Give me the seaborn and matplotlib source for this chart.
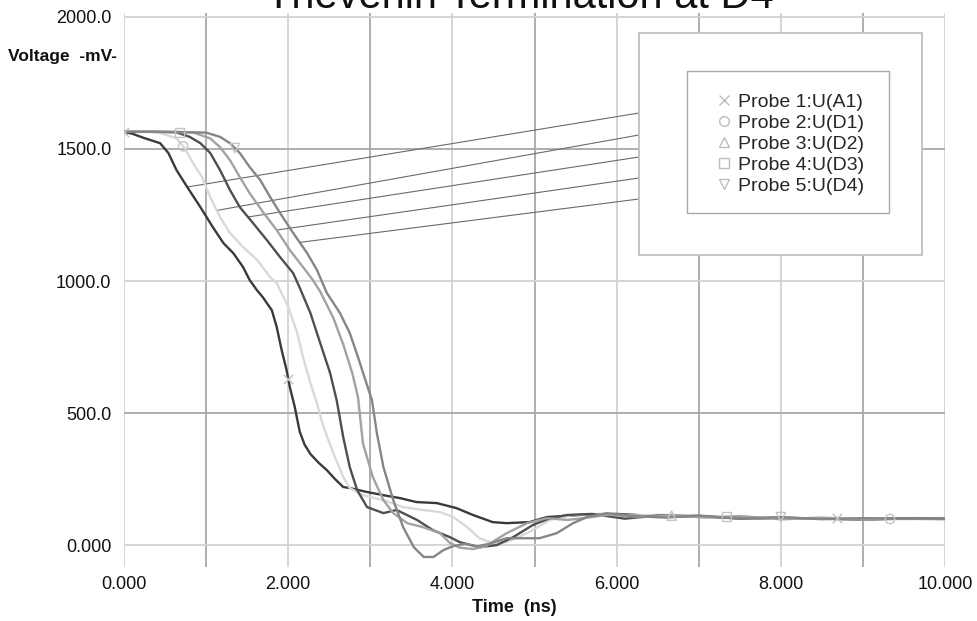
import numpy as np
import pandas as pd
import seaborn as sns
import matplotlib.pyplot as plt
from matplotlib.patches import Rectangle
from matplotlib.lines import Line2D

# ---------------- data ----------------
title = "Thevenin Termination at D4"
probes = ["Probe 1:U(A1)", "Probe 2:U(D1)", "Probe 3:U(D2)", "Probe 4:U(D3)", "Probe 5:U(D4)"]

t1 = [0, 0.1, 0.24, 0.44, 0.54, 0.64, 0.77, 0.93, 1.08, 1.21, 1.33, 1.45, 1.53, 1.62, 1.69, 1.75, 1.80,
      1.86, 1.92, 1.98, 2.02, 2.08, 2.14, 2.20, 2.27, 2.37, 2.47, 2.57, 2.67, 2.75, 2.96, 3.16, 3.36,
      3.56, 3.81, 4.05, 4.25, 4.49, 4.66, 4.94, 5.15, 5.55, 6.0, 6.5, 7.0, 7.5, 8.0, 8.5, 9.0, 9.5, 10.0]
v1 = [1565, 1558, 1542, 1522, 1485, 1420, 1356, 1280, 1205, 1144, 1106, 1053, 1004, 965, 939, 912, 890,
      826, 739, 663, 598, 523, 430, 380, 345, 312, 284, 250, 220, 216, 201, 189, 178,
      163, 159, 140, 114, 87, 83, 87, 106, 114, 118, 110, 108, 104, 100, 103, 98, 100, 102]

t2 = [0, 0.3, 0.44, 0.64, 0.74, 0.84, 0.95, 1.05, 1.17, 1.29, 1.45, 1.62, 1.78, 1.86, 2.0, 2.11, 2.18,
      2.27, 2.35, 2.43, 2.55, 2.67, 2.75, 2.91, 3.16, 3.40, 3.64, 3.85, 4.01, 4.18, 4.33, 4.49, 4.66,
      4.91, 5.19, 5.47, 5.8, 6.2, 6.6, 7.0, 7.5, 8.0, 8.5, 9.0, 9.5, 10.0]
v2 = [1565, 1565, 1561, 1540, 1503, 1447, 1394, 1318, 1242, 1182, 1129, 1080, 1015, 992, 902, 803, 712,
      614, 538, 447, 348, 258, 216, 189, 170, 144, 133, 125, 106, 68, 26, 8, 11,
      45, 95, 114, 118, 112, 115, 106, 108, 98, 104, 100, 98, 100]

t3 = [0, 0.4, 0.64, 0.80, 0.93, 1.05, 1.17, 1.29, 1.41, 1.57, 1.74, 1.90, 2.06, 2.14, 2.27, 2.39, 2.51,
      2.59, 2.63, 2.67, 2.75, 2.84, 2.96, 3.16, 3.32, 3.57, 3.76, 3.97, 4.09, 4.33, 4.54, 4.74, 4.98,
      5.19, 5.40, 5.7, 6.1, 6.5, 7.0, 7.5, 8.0, 8.5, 9.0, 9.5, 10.0]
v3 = [1565, 1565, 1563, 1546, 1522, 1485, 1420, 1345, 1280, 1220, 1155, 1091, 1030, 975, 879, 765, 652,
      549, 480, 409, 295, 208, 144, 121, 133, 95, 57, 30, 11, -8, 0, 30, 76,
      102, 114, 118, 100, 112, 110, 100, 104, 100, 96, 102, 100]

t4 = [0, 0.5, 0.85, 1.05, 1.17, 1.29, 1.41, 1.53, 1.70, 1.86, 2.02, 2.18, 2.30, 2.39, 2.55, 2.67, 2.78,
      2.85, 2.91, 3.03, 3.16, 3.28, 3.45, 3.64, 3.85, 3.97, 4.09, 4.25, 4.40, 4.66, 4.91, 5.15, 5.40,
      5.6, 5.9, 6.3, 6.7, 7.1, 7.5, 8.0, 8.5, 9.0, 9.5, 10.0]
v4 = [1565, 1565, 1562, 1540, 1507, 1458, 1394, 1333, 1258, 1193, 1117, 1053, 1004, 960, 860, 760, 652,
      560, 386, 258, 170, 121, 83, 68, 45, 8, -10, -15, -5, 45, 83, 102, 95,
      102, 115, 106, 112, 104, 110, 98, 102, 96, 100, 100]

t5 = [0, 0.6, 1.0, 1.17, 1.29, 1.41, 1.53, 1.66, 1.78, 1.90, 2.06, 2.23, 2.35, 2.47, 2.63, 2.75, 2.85,
      2.94, 3.02, 3.08, 3.16, 3.28, 3.40, 3.53, 3.65, 3.77, 3.89, 4.0, 4.15, 4.3, 4.45, 4.66, 4.86,
      5.06, 5.27, 5.47, 5.64, 5.88, 6.2, 6.6, 7.0, 7.5, 8.0, 8.5, 9.0, 9.5, 10.0]
v5 = [1565, 1565, 1562, 1546, 1522, 1485, 1432, 1382, 1318, 1258, 1182, 1106, 1042, 955, 879, 803, 712,
      625, 549, 424, 295, 170, 68, -8, -45, -45, -19, -5, 5, -5, 5, 26, 26,
      26, 45, 83, 106, 121, 110, 104, 112, 100, 106, 98, 102, 100, 98]

curve_t = [t1, t2, t3, t4, t5]
curve_v = [v1, v2, v3, v4, v5]
line_colors = ["#3a3a3a", "#d9d9d9", "#4f4f4f", "#a2a2a2", "#868686"]
marker_shapes = ["x", "o", "^", "s", "v"]
marker_times = [[0.0, 2.0, 8.68], [0.72, 9.33], [6.67], [0.68, 7.34], [1.35, 8.0]]
leader_times = [0.77, 1.13, 1.51, 1.86, 2.14]

x_ticks = list(range(0, 11))
x_labels = ["0.000", "", "2.000", "", "4.000", "", "6.000", "", "8.000", "", "10.000"]
y_ticks = [0, 500, 1000, 1500, 2000]
y_labels = ["0.000", "500.0", "1000.0", "1500.0", "2000.0"]

# ---------------- figure ----------------
sns.set_style("white")
plt.rcParams["font.family"] = ["Liberation Sans", "DejaVu Sans"]

W, H = 978, 621
fig = plt.figure(figsize=(W / 100, H / 100), dpi=100)
ax = fig.add_axes([124 / W, (H - 567) / H, 821 / W, 554 / H])

df = pd.concat(
    [pd.DataFrame({"t": t, "v": v, "probe": p}) for t, v, p in zip(curve_t, curve_v, probes)],
    ignore_index=True,
)
sns.lineplot(data=df, x="t", y="v", hue="probe", palette=dict(zip(probes, line_colors)),
             estimator=None, sort=False, lw=1.7, legend=False, ax=ax, zorder=3)
for ln in ax.get_lines():
    ln.set_solid_joinstyle("round")

# sparse markers on the curves
for t, v, m, mt in zip(curve_t, curve_v, marker_shapes, marker_times):
    mv = np.interp(mt, t, v)
    if m == "x":
        sns.scatterplot(x=mt, y=mv, marker=m, s=45, color="#bdbdbd", linewidth=1.0, ax=ax, zorder=4)
    else:
        sns.scatterplot(x=mt, y=mv, marker=m, s=45, facecolors="none", edgecolor="#c4c4c4",
                        linewidth=1.0, ax=ax, zorder=4)

ax.set_xlim(0, 10)
ax.set_ylim(-83, 2015)
ax.set_xticks(x_ticks)
ax.set_xticklabels(x_labels)
ax.set_yticks(y_ticks)
ax.set_yticklabels(y_labels)
ax.set_xlabel("")
ax.set_ylabel("")
ax.tick_params(axis="both", length=0, labelsize=13, colors="#111111")
ax.tick_params(axis="x", pad=6.5)
ax.tick_params(axis="y", pad=9)
for s in ax.spines.values():
    s.set_visible(False)

ax.grid(True, lw=1.3)
for i, gl in enumerate(ax.xaxis.get_gridlines()):
    gl.set_color("#a8a8a8" if i % 2 else "#d2d2d2")
for i, gl in enumerate(ax.yaxis.get_gridlines()):
    gl.set_color("#a8a8a8" if i % 2 else "#d2d2d2")
ax.set_axisbelow(True)

# texts
fig.text(520 / W, 1 - 8 / H, title, ha="center", va="baseline", fontsize=30, color="#111111")
fig.text(8 / W, 1 - 57 / H, "Voltage  -mV-", ha="left", va="center", fontsize=12.5,
         fontweight="bold", color="#111111")
fig.text(514 / W, 1 - 607 / H, "Time  (ns)", ha="center", va="center", fontsize=13,
         fontweight="bold", color="#111111")

# legend boxes
outer = Rectangle((639 / W, 1 - 255 / H), 283 / W, 222 / H, transform=fig.transFigure,
                  facecolor="white", edgecolor="#c4c4c4", lw=1.4, zorder=5)
inner = Rectangle((687 / W, 1 - 213 / H), 202 / W, 142 / H, transform=fig.transFigure,
                  facecolor="white", edgecolor="#a8a8a8", lw=1.0, zorder=6)
fig.add_artist(outer)
fig.add_artist(inner)

# leader lines from curves to legend box
leader_y = [113, 135, 157, 178, 199]
for t, v, lt, ly in zip(curve_t, curve_v, leader_times, leader_y):
    lv = np.interp(lt, t, v)
    ax.annotate("", xy=(lt, lv), xycoords="data", xytext=(639, H - ly), textcoords="figure pixels",
                arrowprops=dict(arrowstyle="-", color="#6a6a6a", lw=0.8, shrinkA=0, shrinkB=0),
                annotation_clip=False, zorder=2)

handles = [Line2D([], [], linestyle="none", marker=m, markersize=7, markerfacecolor="none",
                  markeredgecolor="#bdbdbd", markeredgewidth=1.0) for m in marker_shapes]
leg = fig.legend(handles, probes, loc="upper left", bbox_to_anchor=(716 / W, 1 - 93 / H),
                 bbox_transform=fig.transFigure, frameon=False, fontsize=14, borderpad=0,
                 borderaxespad=0, handlelength=0.85, handletextpad=0.3, labelspacing=0.18)
leg.set_zorder(7)

fig.savefig("out.png", dpi=100)
